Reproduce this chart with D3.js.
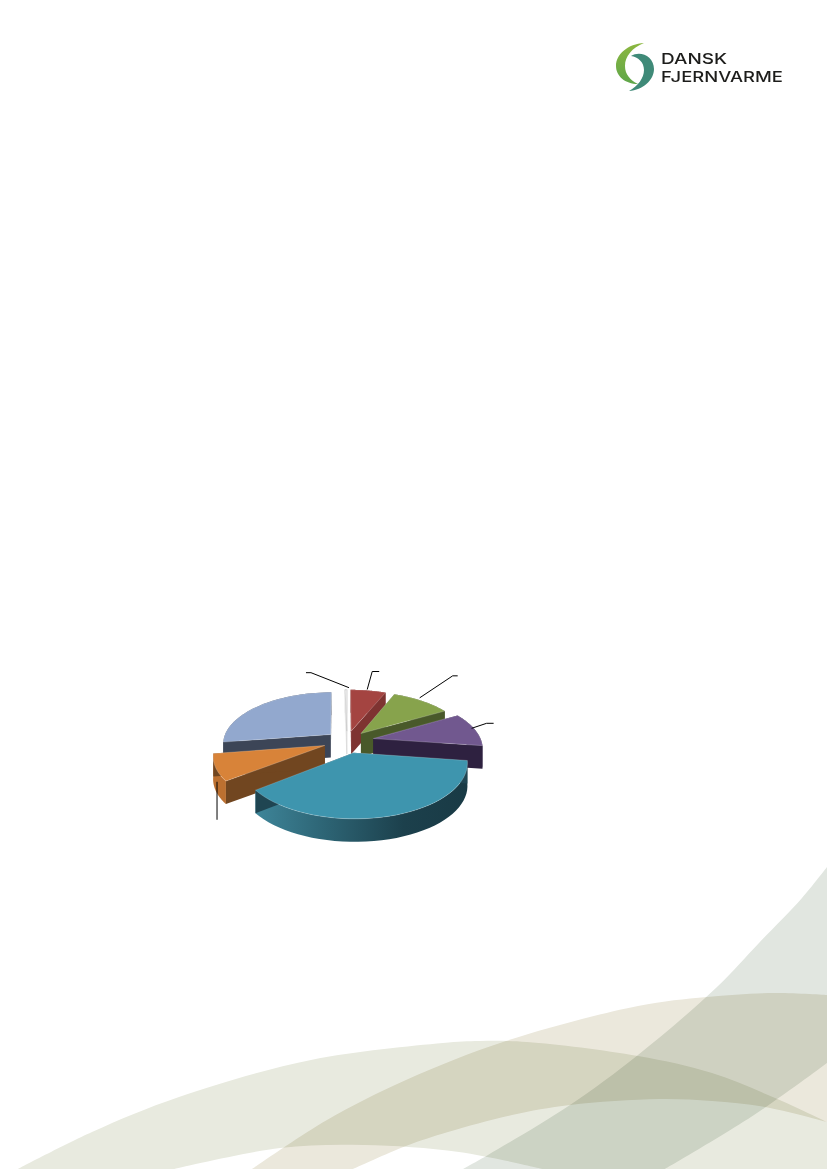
<!DOCTYPE html>
<html><head><meta charset="utf-8">
<script src="https://cdn.jsdelivr.net/npm/d3@7/dist/d3.min.js"></script>
<style>html,body{margin:0;padding:0;background:#fff}svg{display:block}</style>
</head><body><svg id="c" width="827" height="1169" viewBox="0 0 827 1169"></svg>
<script>
// Data (share of the pie, %). The chart prints no category labels.
const categories = ["red","green","purple","teal","orange","blue","white"];
const values = [6.2,10.4,10.4,37.1,8.0,26.9,0.3];
const topColors = ["#A44441","#87A34C","#71588F","#3E95AE","#D88339","#92A8CE","#FFFFFF"];
const sideColors = ["#7E3331","#49592A","#2E2140","#1F4552","#714620","#3C4557","#F4F4F4"];
const wallColors = ["#7E3331","#49592A","#2E2140","#1F4552","#BC7030","#3C4557","#F4F4F4"];
const explodeBy = [0.2,0.2,0.25,0.23,0.22,0.2,0.2];
const logoWords = ["DANSK","FJERNVARME"];

const svg = d3.select("#c");
const defs = svg.append("defs");

// ---- background bands
const bandA = [[18,1169],[92,1132],[179,1097],[311,1060],[443,1043],[480,1041],[527,1042],[638,1056],[712,1073],[775,1098],[827,1122],[827,1169],[543,1169],[459,1152],[364,1145],[280,1148],[174,1169]];
const bandB = [[252,1169],[327,1120],[406,1080],[506,1041],[638,1006],[707,997],[775,993],[827,995],[827,1122],[765,1107],[712,1101],[659,1099],[570,1105],[512,1115],[448,1132],[406,1146],[353,1169]];
const bandC = [[827,867],[802,898],[759,943],[717,987],[638,1055],[570,1105],[488,1155],[463,1169],[665,1169],[754,1115],[827,1063]];
const smooth = d3.line().curve(d3.curveCatmullRom.alpha(0.5));
function bandPath(pts, breaks){
  let d="", start=0;
  breaks.concat([pts.length-1]).forEach(b=>{
    const s=smooth(pts.slice(start,b+1));
    d += start===0 ? s : s.replace(/^M/,"L");
    start=b;
  });
  return d+"Z";
}
const bands = svg.append("g").style("isolation","isolate");
[[bandC,[7,8],"#E1E6E0"],[bandA,[10,11,12],"#E8EADF"],[bandB,[7,8],"#EBE8DC"]].forEach(([p,b,c])=>{
  bands.append("path").attr("d",bandPath(p,b)).attr("fill",c).style("mix-blend-mode","multiply");
});

// ---- logo
const logo = svg.append("g");
const lg = defs.append("linearGradient").attr("id","lg").attr("x1",0).attr("y1",0).attr("x2",0).attr("y2",1);
lg.append("stop").attr("offset",0).attr("stop-color","#8CB73F");
lg.append("stop").attr("offset",1).attr("stop-color","#5FA64A");
logo.append("path").attr("fill","url(#lg)")
  .attr("d","M644,43 C628,44 616,54 616,66 C616,76 625,84 638,84 C630,80 625,74 625,66 C625,56 632,48 644,43Z");
logo.append("path").attr("fill","#3F8A78")
  .attr("d","M631,56 C640,50 654,56 654,69 C654,80 643,90 629,91 C638,86 644,78 644,70 C644,62 638,57 631,56Z");
logoWords.forEach((w,i)=>{
  logo.append("text").text(w).attr("x",661).attr("y",63.5+i*18)
    .attr("font-family","Inter, Lato, sans-serif").attr("font-weight",500).attr("font-size",14.6).attr("fill","#1d1d1b")
    .attr("textLength",i?122:66).attr("lengthAdjust","spacingAndGlyphs");
});

// ---- exploded 3D pie
const cx=347, cy=741, R=108, tilt=0.473, persp=0.162, depth=23;
const pie = d3.pie().sort(null).value(d=>d)(values);
const project=(u,v,down=0)=>{const s=1/(1-persp*v);return [cx+u*R*s, cy+v*R*tilt*s+down];};
const slices = pie.map((p,i)=>{
  const mid=(p.startAngle+p.endAngle)/2;
  const ox=explodeBy[i]*Math.sin(mid), oy=-explodeBy[i]*Math.cos(mid);
  const at=(t,r=1)=>[ox+r*Math.sin(t), oy-r*Math.cos(t)];
  const arc=d3.range(0,41).map(k=>at(p.startAngle+(p.endAngle-p.startAngle)*k/40));
  return {i,name:categories[i],p,mid,apex:[ox,oy],arc,at};
});
const line=d3.line();
const P=(q,d)=>project(q[0],q[1],d);
const order=slices.slice().sort((a,b)=>{
  const key=s=>s.apex[1]+0.4*Math.max(...s.arc.map(q=>q[1]));
  return key(a)-key(b);
});
const tealGrad=defs.append("linearGradient").attr("id","teal").attr("gradientUnits","objectBoundingBox").attr("x1",0).attr("x2",1).attr("y1",0).attr("y2",0);
[[0,"#3E8599"],[0.35,"#2C6272"],[0.7,"#1C404C"],[1,"#193A45"]].forEach(([o,c])=>tealGrad.append("stop").attr("offset",o).attr("stop-color",c));

const pieG=svg.append("g");
order.forEach(s=>{
  const g=pieG.append("g").attr("class","slice").attr("data-name",s.name);
  const side=s.name==="teal"?"url(#teal)":wallColors[s.i];
  const a=s.apex, first=s.arc[0], last=s.arc[s.arc.length-1];
  const stroke=s.name==="white"?"#D5D5D5":"none";
  const wall=s.arc.map(q=>P(q,0)).concat(s.arc.slice().reverse().map(q=>P(q,depth)));
  g.append("path").attr("d",line(wall)+"Z").attr("fill",side).attr("stroke",stroke).attr("stroke-width",.4);
  g.append("path").attr("d",line([P(a,0),P(first,0),P(first,depth),P(a,depth)])+"Z").attr("fill",sideColors[s.i]).attr("stroke",stroke).attr("stroke-width",.4);
  g.append("path").attr("d",line([P(a,0),P(last,0),P(last,depth),P(a,depth)])+"Z").attr("fill",sideColors[s.i]).attr("stroke",stroke).attr("stroke-width",.4);
  g.append("path").attr("d",line([P(a,0),...s.arc.map(q=>P(q,0))])+"Z").attr("fill",topColors[s.i]).attr("stroke",s.name==="white"?"#C8C8C8":"#ffffff").attr("stroke-opacity",s.name==="white"?1:.35).attr("stroke-width",.6);
});

// ---- leader lines (labels are blank in the reference)
const leaderElbow={white:[-38,-15,-5,3,-2,0],red:[5,-18,7,-1,-1,0],green:[33,-22,5,-2,-3,0],purple:[15,-5,7,-3,-1,0],orange:[0,38,0,0,0,-0.05]};
Object.entries(leaderElbow).forEach(([name,[dx,dy,tail,sx,sy,da]])=>{
  const s=slices.find(d=>d.name===name);
  const q=s.at(s.mid+da);
  const a0=P(q,name==="orange"?depth*.5:0);
  const a=[a0[0]+sx,a0[1]+sy];
  const b=[a[0]+dx,a[1]+dy];
  pieG.append("path").attr("d",line([a,b,[b[0]+tail,b[1]]])).attr("fill","none").attr("stroke","#000").attr("stroke-width",1);
});
</script></body></html>
